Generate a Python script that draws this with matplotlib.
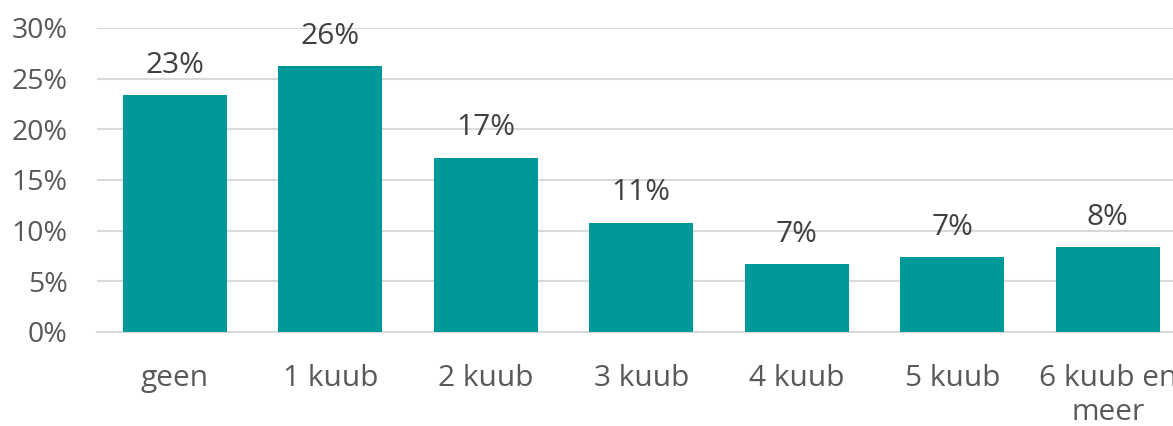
import matplotlib.pyplot as plt

categories = ["geen", "1 kuub", "2 kuub", "3 kuub", "4 kuub", "5 kuub", "6 kuub en\nmeer"]
values = [23.4, 26.2, 17.2, 10.8, 6.7, 7.4, 8.4]
labels = ["23%", "26%", "17%", "11%", "7%", "7%", "8%"]
yticks = [0, 5, 10, 15, 20, 25, 30]

plt.rcParams['font.family'] = ['Open Sans', 'DejaVu Sans']

fig = plt.figure(figsize=(11.73, 4.26), dpi=100)
ax = fig.add_axes([0.0827, 0.2207, 0.928, 0.7136])

x = range(len(categories))
bars = ax.bar(x, values, width=0.67, color="#009999", zorder=3)

for b, lab in zip(bars, labels):
    ax.annotate(lab, (b.get_x() + b.get_width() / 2, b.get_height()),
                xytext=(0, 11), textcoords="offset points",
                ha="center", va="bottom", fontsize=21.5, color="#404040")

ax.set_xlim(-0.5, len(categories) - 0.5)
ax.set_ylim(0, 30)
ax.set_yticks(yticks)
ax.set_yticklabels([f"{t}%" for t in yticks])
ax.set_xticks(list(x))
ax.set_xticklabels(categories, linespacing=1.25)

ax.grid(axis="y", color="#d9d9d9", linewidth=1.5, zorder=0)
for s in ["top", "right", "left"]:
    ax.spines[s].set_visible(False)
ax.spines["bottom"].set_color("#d9d9d9")
ax.spines["bottom"].set_linewidth(1.5)

ax.tick_params(axis="y", length=0, pad=21, labelsize=20.5, labelcolor="#595959")
ax.tick_params(axis="x", length=0, pad=23, labelsize=21.5, labelcolor="#595959")

fig.savefig("out.png", dpi=100)
